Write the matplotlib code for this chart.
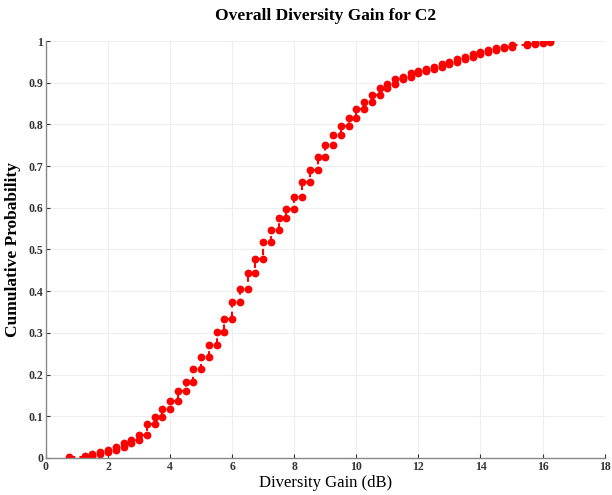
import numpy as np
import matplotlib.pyplot as plt

# diversity gain values (dB) and empirical CDF level from each value onwards
gain_db = [0.75, 1.25, 1.5, 1.75, 2.0, 2.25, 2.5, 2.75, 3.0, 3.25, 3.5, 3.75,
           4.0, 4.25, 4.5, 4.75, 5.0, 5.25, 5.5, 5.75, 6.0, 6.25, 6.5, 6.75,
           7.0, 7.25, 7.5, 7.75, 8.0, 8.25, 8.5, 8.75, 9.0, 9.25, 9.5, 9.75,
           10.0, 10.25, 10.5, 10.75, 11.0, 11.25, 11.5, 11.75, 12.0, 12.25,
           12.5, 12.75, 13.0, 13.25, 13.5, 13.75, 14.0, 14.25, 14.5, 14.75,
           15.0, 15.5, 15.75, 16.0, 16.25]
cdf = [0.002, 0.005, 0.010, 0.014, 0.019, 0.027, 0.035, 0.044, 0.056, 0.082,
       0.098, 0.117, 0.136, 0.160, 0.182, 0.213, 0.242, 0.271, 0.302, 0.333,
       0.374, 0.405, 0.444, 0.477, 0.518, 0.547, 0.575, 0.597, 0.626, 0.662,
       0.690, 0.722, 0.751, 0.775, 0.796, 0.815, 0.837, 0.854, 0.870, 0.887,
       0.897, 0.909, 0.914, 0.923, 0.928, 0.933, 0.938, 0.945, 0.950, 0.957,
       0.963, 0.968, 0.973, 0.978, 0.983, 0.987, 0.991, 0.994, 0.996, 0.998,
       1.000]

xticks = np.arange(0, 19, 2)
yticks = np.arange(0, 1.01, 0.1)
ytick_labels = ["0", "0.1", "0.2", "0.3", "0.4", "0.5", "0.6", "0.7", "0.8", "0.9", "1"]

# staircase vertices: each level is drawn from its value to the next one
x = np.asarray(gain_db)
y = np.asarray(cdf)
sx = np.repeat(x, 2)[1:]
sy = np.repeat(y, 2)[:-1]

plt.rcParams["font.family"] = ["Liberation Serif", "DejaVu Serif"]

fig = plt.figure(figsize=(6.12, 4.95), dpi=100)
ax = fig.add_axes([0.075, 0.075, 0.913, 0.842])

ax.plot(sx, sy, linestyle="--", color="#ff0000", linewidth=1.5,
        marker="o", markersize=4.6, markerfacecolor="#ff0000",
        markeredgecolor="#ff0000", dashes=(3, 2))

ax.set_xlim(0, 18)
ax.set_ylim(0, 1)
ax.set_xticks(xticks)
ax.set_yticks(yticks)
ax.set_xticklabels([str(t) for t in xticks], fontsize=8.5, fontweight="bold")
ax.set_yticklabels(ytick_labels, fontsize=8.5, fontweight="bold")
ax.tick_params(direction="in", length=3, width=0.8, colors="#333333", pad=2)
ax.grid(True, color="#eeeeee", linewidth=0.8)
ax.set_axisbelow(True)

for side in ["top", "right"]:
    ax.spines[side].set_visible(False)
for side in ["left", "bottom"]:
    ax.spines[side].set_color("#888888")
    ax.spines[side].set_linewidth(1.0)

ax.set_title("Overall Diversity Gain for C2", fontsize=12.5, fontweight="bold", pad=15)
ax.set_xlabel("Diversity Gain (dB)", fontsize=12, labelpad=2)
ax.set_ylabel("Cumulative Probability", fontsize=12.5, fontweight="bold", labelpad=5)

fig.savefig("out.png", dpi=100)
